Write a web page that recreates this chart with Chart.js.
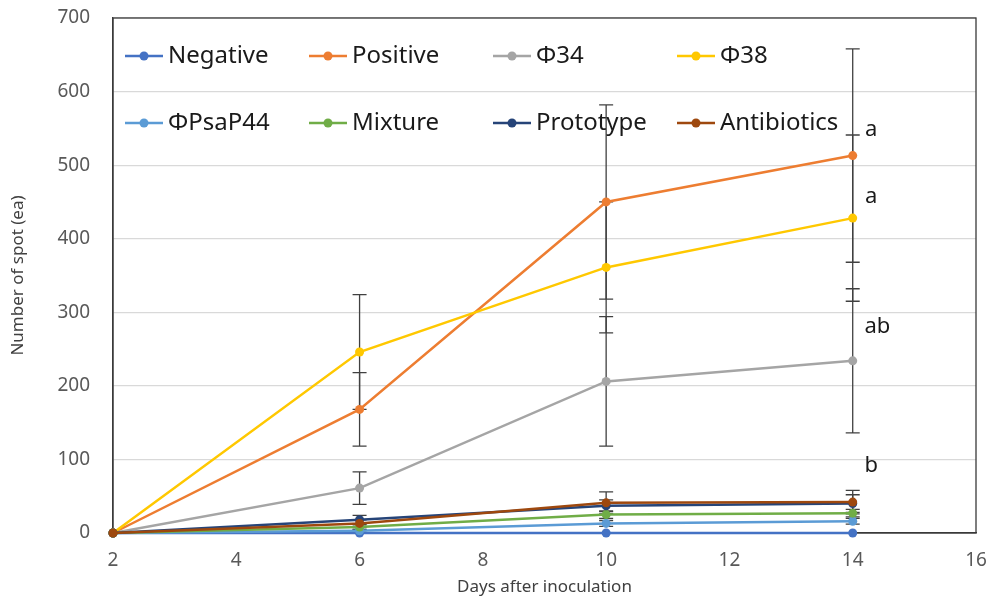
<!DOCTYPE html>
<html lang="en">
<head>
    <meta charset="UTF-8">
    <title>Number of spot</title>
    <script src="https://cdn.jsdelivr.net/npm/chart.js"></script>
    <style>
        body {
            margin: 0;
            background: white;
        }
        .wrap {
            width: 994px;
            height: 602px;
        }
    </style>
</head>
<body>
    <div class="wrap">
        <canvas id="spotChart"></canvas>
    </div>

    <script>
        // Days after inoculation
        const days = [2, 6, 10, 14];

        const seriesNames = ['Negative', 'Positive', 'Φ34', 'Φ38', 'ΦPsaP44', 'Mixture', 'Prototype', 'Antibiotics'];
        const seriesColors = ['#4472C4', '#ED7D31', '#A5A5A5', '#FFC800', '#5B9BD5', '#70AD47', '#264478', '#9E480E'];

        // Mean number of spots per day
        const negative    = [0, 0, 0, 0];
        const positive    = [0, 168, 450, 513];
        const phi34       = [0, 61, 206, 234];
        const phi38       = [0, 246, 361, 428];
        const phiPsaP44   = [0, 3, 13, 16];
        const mixture     = [0, 8, 25, 27];
        const prototype   = [0, 18, 37, 40];
        const antibiotics = [0, 13, 41, 42];

        // Standard deviations (error bars)
        const negativeErr    = [0, 0, 0, 0];
        const positiveErr    = [0, 50, 132, 145];
        const phi34Err       = [0, 22, 88, 98];
        const phi38Err       = [0, 78, 89, 113];
        const phiPsaP44Err   = [0, 2, 4, 4];
        const mixtureErr     = [0, 3, 5, 5];
        const prototypeErr   = [0, 6, 8, 12];
        const antibioticsErr = [0, 5, 15, 16];

        const seriesValues = [negative, positive, phi34, phi38, phiPsaP44, mixture, prototype, antibiotics];
        const seriesErrors = [negativeErr, positiveErr, phi34Err, phi38Err, phiPsaP44Err, mixtureErr, prototypeErr, antibioticsErr];

        // Significance letters at day 14
        const letterText = ['a', 'a', 'ab', 'b'];
        const letterX = [14.3, 14.3, 14.4, 14.3];
        const letterY = [548, 457, 280, 91];

        const yTicks = [0, 100, 200, 300, 400, 500, 600, 700];
        const xTicks = [2, 4, 6, 8, 10, 12, 14, 16];

        const FONT = '"Noto Sans", "Open Sans", sans-serif';

        const datasets = seriesNames.map((name, i) => ({
            label: name,
            data: days.map((d, j) => ({ x: d, y: seriesValues[i][j] })),
            errors: seriesErrors[i],
            borderColor: seriesColors[i],
            backgroundColor: seriesColors[i],
            borderWidth: 2.5,
            pointRadius: 4.5,
            pointHoverRadius: 4.5,
            pointBorderWidth: 0,
            tension: 0,
            clip: false,
            // later series are painted on top
            order: seriesNames.length - i
        }));

        // Vertical error bars with caps
        const errorBars = {
            id: 'errorBars',
            beforeDatasetsDraw(chart) {
                const { ctx, scales: { x, y } } = chart;
                ctx.save();
                ctx.strokeStyle = '#404040';
                ctx.lineWidth = 1.3;
                chart.data.datasets.forEach(ds => {
                    ds.data.forEach((p, j) => {
                        const e = ds.errors[j];
                        if (!e) return;
                        const px = x.getPixelForValue(p.x);
                        const top = y.getPixelForValue(p.y + e);
                        const bot = y.getPixelForValue(p.y - e);
                        ctx.beginPath();
                        ctx.moveTo(px, top); ctx.lineTo(px, bot);
                        ctx.moveTo(px - 7, top); ctx.lineTo(px + 7, top);
                        ctx.moveTo(px - 7, bot); ctx.lineTo(px + 7, bot);
                        ctx.stroke();
                    });
                });
                ctx.restore();
            }
        };

        // Plot frame, in-plot legend and significance letters
        const overlay = {
            id: 'overlay',
            beforeDatasetsDraw(chart) {
                const { ctx, chartArea: a } = chart;
                ctx.save();
                ctx.strokeStyle = '#3a3a3a';
                ctx.lineWidth = 1.3;
                ctx.strokeRect(a.left, a.top, a.right - a.left, a.bottom - a.top);
                ctx.restore();
            },
            afterDatasetsDraw(chart) {
                const { ctx, chartArea: a, scales: { x, y } } = chart;
                ctx.save();
                ctx.font = '24px ' + FONT;
                ctx.textBaseline = 'middle';
                ctx.textAlign = 'left';
                chart.data.datasets.forEach((ds, i) => {
                    const col = i % 4, row = Math.floor(i / 4);
                    const lx = a.left + 12 + col * 184;
                    const ly = a.top + 38 + row * 67;
                    ctx.strokeStyle = ds.borderColor;
                    ctx.lineWidth = 2.5;
                    ctx.beginPath();
                    ctx.moveTo(lx, ly); ctx.lineTo(lx + 38, ly);
                    ctx.stroke();
                    ctx.fillStyle = ds.borderColor;
                    ctx.beginPath();
                    ctx.arc(lx + 19, ly, 4.5, 0, Math.PI * 2);
                    ctx.fill();
                    ctx.fillStyle = '#1a1a1a';
                    ctx.fillText(ds.label, lx + 43, ly);
                });

                ctx.font = '22px ' + FONT;
                ctx.textAlign = 'center';
                ctx.fillStyle = '#1a1a1a';
                letterText.forEach((t, i) => {
                    ctx.fillText(t, x.getPixelForValue(letterX[i]), y.getPixelForValue(letterY[i]));
                });
                ctx.restore();
            }
        };

        new Chart(document.getElementById('spotChart'), {
            type: 'line',
            data: { datasets },
            plugins: [errorBars, overlay],
            options: {
                responsive: true,
                maintainAspectRatio: false,
                animation: false,
                layout: { padding: { left: 0, right: 18, top: 18, bottom: 0 } },
                plugins: {
                    legend: { display: false },
                    tooltip: { enabled: false }
                },
                scales: {
                    x: {
                        type: 'linear',
                        min: 2,
                        max: 16,
                        afterFit: s => {
                            s.height = 69;
                            s.paddingLeft = 0;
                            s.paddingRight = 0;
                        },
                        afterBuildTicks: s => { s.ticks = xTicks.map(v => ({ value: v })); },
                        grid: { display: false, drawTicks: false },
                        border: { display: true, color: '#3a3a3a', width: 1.3 },
                        ticks: { padding: 16, color: '#595959', font: { family: FONT, size: 19 } },
                        title: {
                            display: true,
                            text: 'Days after inoculation',
                            color: '#404040',
                            padding: { top: 0, bottom: 5 },
                            font: { family: FONT, size: 17 }
                        }
                    },
                    y: {
                        min: 0,
                        max: 700,
                        afterFit: s => {
                            s.width = 113;
                            s.paddingTop = 0;
                            s.paddingBottom = 0;
                        },
                        afterBuildTicks: s => { s.ticks = yTicks.map(v => ({ value: v })); },
                        grid: { color: '#D9D9D9', lineWidth: 1.2, drawTicks: false },
                        border: { display: true, color: '#3a3a3a', width: 1.3 },
                        ticks: { padding: 23, color: '#595959', font: { family: FONT, size: 19 } },
                        title: {
                            display: true,
                            text: 'Number of spot (ea)',
                            color: '#404040',
                            padding: { top: 8, bottom: 0 },
                            font: { family: FONT, size: 17 }
                        }
                    }
                }
            }
        });
    </script>
</body>
</html>
